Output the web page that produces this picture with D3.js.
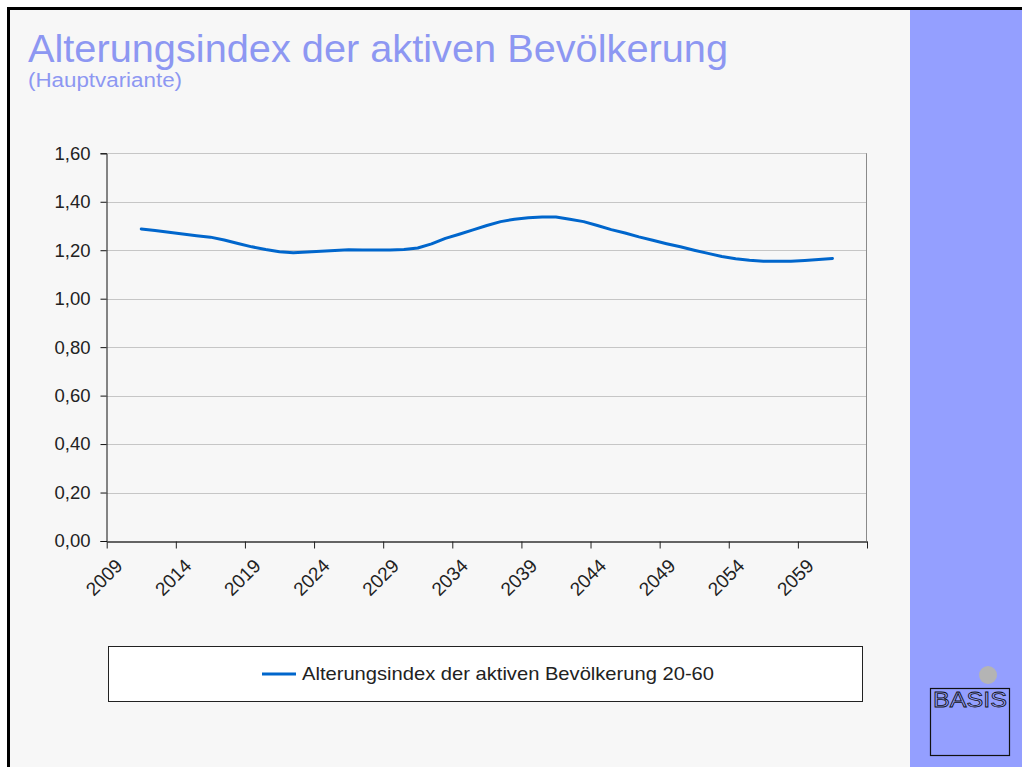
<!DOCTYPE html>
<html>
<head>
<meta charset="utf-8">
<script src="https://cdn.jsdelivr.net/npm/d3@7"></script>
<style>
  html, body { margin: 0; padding: 0; background: #ffffff; }
  svg { display: block; }
  text { font-family: "Helvetica Neue", Helvetica, Arial, "Liberation Sans", sans-serif; }
</style>
</head>
<body>
<svg id="chart"></svg>
<script>
// Data
const years = d3.range(2011, 2062);
const values = [
    1.288, 1.281, 1.274, 1.267, 1.260, 1.254, 1.242, 1.228, 1.214, 1.203,
    1.194, 1.190, 1.193, 1.196, 1.199, 1.202, 1.201, 1.201, 1.201, 1.203,
    1.209, 1.226, 1.249, 1.266, 1.284, 1.302, 1.318, 1.328, 1.334, 1.337,
    1.337, 1.328, 1.318, 1.302, 1.285, 1.271, 1.255, 1.241, 1.227, 1.214,
    1.200, 1.187, 1.174, 1.165, 1.159, 1.155, 1.155, 1.155, 1.158, 1.162,
    1.166
];
const yTicks = [0, 0.2, 0.4, 0.6, 0.8, 1.0, 1.2, 1.4, 1.6];
const xTickYears = [2009, 2014, 2019, 2024, 2029, 2034, 2039, 2044, 2049, 2054, 2059, 2064];
const xLabelYears = [2009, 2014, 2019, 2024, 2029, 2034, 2039, 2044, 2049, 2054, 2059];

const titleText = "Alterungsindex der aktiven Bevölkerung";
const subtitleText = "(Hauptvariante)";
const seriesName = "Alterungsindex der aktiven Bevölkerung 20-60";

const width = 1022, height = 767;
const lineColor = "#0066cc";
const titleColor = "#8d97f2";

const svg = d3.select("#chart")
    .attr("width", width)
    .attr("height", height);

// Slide background + frame
svg.append("rect")
    .attr("x", 0).attr("y", 0)
    .attr("width", width).attr("height", height)
    .attr("fill", "#ffffff");

svg.append("rect")
    .attr("x", 9).attr("y", 9)
    .attr("width", width - 9).attr("height", height - 9)
    .attr("fill", "#f7f7f7");

// blue side panel
svg.append("rect")
    .attr("x", 910).attr("y", 9)
    .attr("width", width - 910).attr("height", height - 9)
    .attr("fill", "#949fff");

svg.append("path")
    .attr("d", `M8.5,${height} V8.5 H${width}`)
    .attr("fill", "none")
    .attr("stroke", "#000")
    .attr("stroke-width", 3);

// Titles
svg.append("text")
    .attr("x", 28)
    .attr("y", 62)
    .attr("font-size", 39)
    .attr("fill", titleColor)
    .attr("textLength", 700)
    .attr("lengthAdjust", "spacingAndGlyphs")
    .text(titleText);

svg.append("text")
    .attr("x", 28)
    .attr("y", 87)
    .attr("font-size", 20)
    .attr("fill", titleColor)
    .attr("textLength", 154)
    .attr("lengthAdjust", "spacingAndGlyphs")
    .text(subtitleText);

// Scales
const x = d3.scaleLinear()
    .domain([2009, 2064])
    .range([106.7, 867]);

const y = d3.scaleLinear()
    .domain([0, 1.6])
    .range([541, 153.3]);

const fmt = v => d3.format(".2f")(v).replace(".", ",");

const plot = svg.append("g");

// Gridlines
plot.append("g")
    .selectAll("line")
    .data(yTicks.filter(d => d > 0))
    .join("line")
    .attr("x1", x(2009))
    .attr("x2", x(2064))
    .attr("y1", d => Math.round(y(d)) + 0.5)
    .attr("y2", d => Math.round(y(d)) + 0.5)
    .attr("stroke", "#c6c6c6")
    .attr("stroke-width", 1);

// right border of plot area
plot.append("line")
    .attr("x1", Math.round(x(2064)) - 0.5)
    .attr("x2", Math.round(x(2064)) - 0.5)
    .attr("y1", y(1.6))
    .attr("y2", y(0))
    .attr("stroke", "#8a8a8a");

// Y axis
const yAxis = plot.append("g")
    .attr("transform", `translate(${Math.round(x(2009)) - 0.5},0)`)
    .call(d3.axisLeft(y).tickValues(yTicks).tickFormat(fmt).tickSize(6).tickPadding(10));

yAxis.select(".domain").attr("stroke", "#111");
yAxis.selectAll(".tick line").attr("stroke", "#111");
yAxis.selectAll(".tick text")
    .attr("font-size", 18.5)
    .attr("fill", "#222")
    .attr("font-family", null);

// X axis
const xAxis = plot.append("g")
    .attr("transform", `translate(0,${Math.round(y(0)) + 0.5})`)
    .call(d3.axisBottom(x).tickValues(xTickYears).tickFormat("").tickSize(7).tickSizeOuter(0));

xAxis.select(".domain").attr("stroke", "#333").attr("stroke-width", 1.5);
xAxis.selectAll(".tick line").attr("stroke", "#222");

plot.append("g")
    .selectAll("text")
    .data(xLabelYears)
    .join("text")
    .attr("transform", d => `translate(${x(d) + 17},567) rotate(-45)`)
    .attr("text-anchor", "end")
    .attr("font-size", 19)
    .attr("fill", "#222")
    .text(d => d);

// The series line, points at category centres
const points = years.map((yr, i) => ({ year: yr, value: values[i] }));

const line = d3.line()
    .x(d => x(d.year + 0.5))
    .y(d => y(d.value));

plot.append("path")
    .datum(points)
    .attr("d", line)
    .attr("fill", "none")
    .attr("stroke", lineColor)
    .attr("stroke-width", 3)
    .attr("stroke-linejoin", "round")
    .attr("stroke-linecap", "round");

// Legend
const legend = svg.append("g");

legend.append("rect")
    .attr("x", 108.5).attr("y", 646.5)
    .attr("width", 754).attr("height", 55)
    .attr("fill", "#ffffff")
    .attr("stroke", "#222")
    .attr("stroke-width", 1);

legend.append("line")
    .attr("x1", 262).attr("x2", 296)
    .attr("y1", 674).attr("y2", 674)
    .attr("stroke", lineColor)
    .attr("stroke-width", 3);

legend.append("text")
    .attr("x", 302)
    .attr("y", 680)
    .attr("font-size", 18.5)
    .attr("fill", "#222")
    .attr("textLength", 412)
    .attr("lengthAdjust", "spacingAndGlyphs")
    .text(seriesName);

// BASIS logo in the side panel
const logo = svg.append("g");

logo.append("circle")
    .attr("cx", 988).attr("cy", 675).attr("r", 9)
    .attr("fill", "#b4b4b4");

logo.append("rect")
    .attr("x", 930.5).attr("y", 688.5)
    .attr("width", 79).attr("height", 67)
    .attr("fill", "none")
    .attr("stroke", "#111")
    .attr("stroke-width", 1.2);

logo.append("text")
    .attr("x", 933)
    .attr("y", 707)
    .attr("font-size", 22)
    .attr("font-family", "'Liberation Sans Narrow', 'DejaVu Sans Condensed', sans-serif")
    .attr("fill", "#949fff")
    .attr("stroke", "#111")
    .attr("stroke-width", 0.8)
    .attr("textLength", 74)
    .attr("lengthAdjust", "spacingAndGlyphs")
    .text("BASIS");
</script>
</body>
</html>
